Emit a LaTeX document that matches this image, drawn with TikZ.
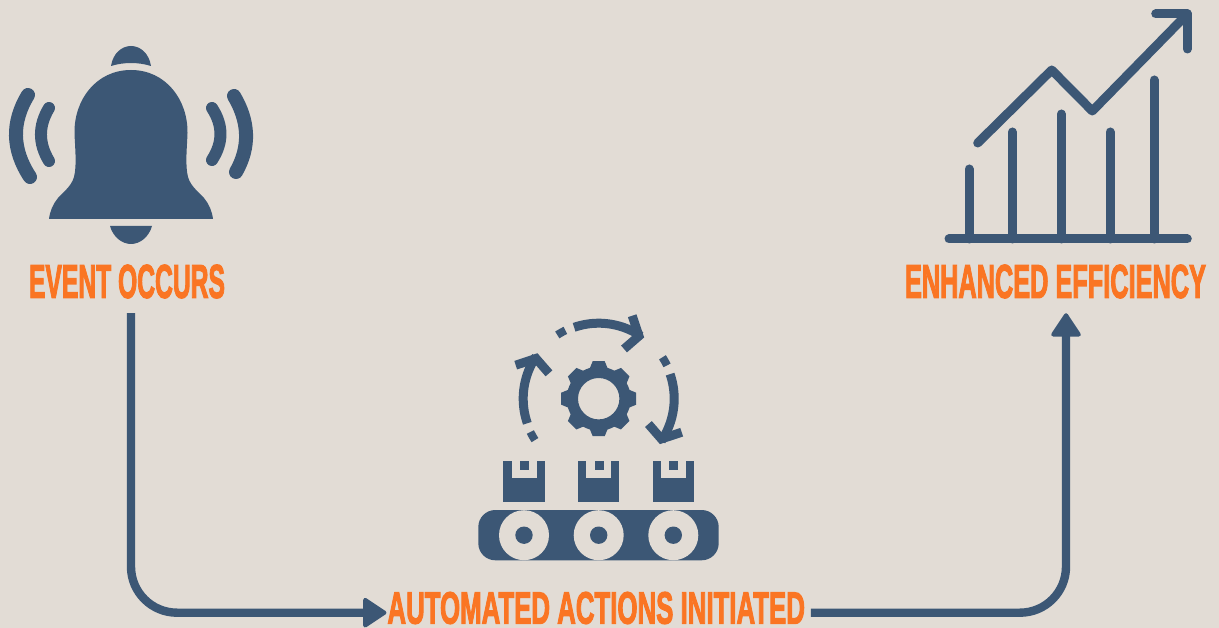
\documentclass[tikz,border=0pt]{standalone}
\usepackage{fontspec}
\usetikzlibrary{arrows.meta,calc}
\newfontfamily\capfont[FakeBold=3]{Liberation Sans Bold}
\definecolor{bgc}{RGB}{226,220,213}
\definecolor{navy}{RGB}{60,87,117}
\definecolor{orng}{RGB}{250,117,35}
\newcommand{\fitcap}[3]{\resizebox{#1pt}{#2pt}{\capfont #3}}
\tikzset{
  cap label/.style={inner sep=0pt,outer sep=0pt,text=orng},
  flow/.style={draw=navy,line width=8.4pt,rounded corners=46pt,
    -{Triangle[length=25pt,width=32pt,round,line width=4pt,fill=navy]}},
  wave/.style={draw=navy,line cap=round,fill=none},
  chartline/.style={draw=navy,line width=9pt,line cap=round,line join=round,fill=none},
  cyc/.style={draw=navy,line width=9pt,fill=none},
}
\begin{document}
\begin{tikzpicture}[x=1pt,y=-1pt]
\useasboundingbox (0,0) rectangle (1219,628);
\fill[bgc] (0,0) rectangle (1219,628);

% bell
\fill[navy] (111,66) .. controls (113,53) and (122,46) .. (131,46) .. controls (140,46) and (149,53) .. (151,66) .. controls (138,62) and (124,62) .. (111,66) -- cycle;
\fill[navy] (131,70) .. controls (96,70) and (74,100) .. (74.5,133) .. controls (75,148) and (77,165) .. (74,177)
  .. controls (71,187) and (63,192) .. (58,198) .. controls (53,204) and (50,211) .. (49,219) -- (213,219)
  .. controls (212,211) and (209,204) .. (204,198) .. controls (199,192) and (191,187) .. (188,177)
  .. controls (185,165) and (187,148) .. (187.5,133) .. controls (188,100) and (166,70) .. (131,70) -- cycle;
\fill[navy] (110,226) -- (152,226) .. controls (149,237) and (140,244) .. (131,244) .. controls (122,244) and (113,237) .. (110,226) -- cycle;
\draw[wave,line width=14pt] (28,95) .. controls (11.3,122.3) and (12,149.7) .. (30,177);
\draw[wave,line width=12pt] (49,108) .. controls (38.3,125.7) and (38.3,143.3) .. (49,161);
\draw[wave,line width=12pt] (212,108) .. controls (223.3,125.3) and (223.3,142.7) .. (212,160);
\draw[wave,line width=14pt] (234,96) .. controls (249,121.3) and (250.4,146.7) .. (236,172);

% chart
\draw[chartline] (977.7,143) -- (1051.7,70) -- (1092.3,111) -- (1187.3,14);
\draw[chartline] (1155.7,14) -- (1187.3,14) -- (1187.3,49);
\foreach \bx/\by in {969/169,1012.3/132,1061.3/114,1110/132,1154/80}
  \draw[chartline] (\bx,\by) -- (\bx,239);
\draw[chartline] (949,239) -- (1187.3,239);

% gear
\foreach \ang in {0,45,...,315}
  \fill[navy,shift={(598.7,398.7)},rotate=\ang] (-9.5,-29) -- (-6,-37.5) -- (6,-37.5) -- (9.5,-29) -- cycle;
\fill[navy,even odd rule] (598.7,398.7) circle[radius=32] (598.7,398.7) circle[radius=20.7];

% cycle arrows
\def\gx{598.7}\def\gy{398.7}
\foreach \R in {0,90,-90}{
  \draw[cyc] plot[domain={-109+\R}:{-56+\R},samples=24] ({\gx+75.5*cos(\x)},{\gy+75.5*sin(\x)});
  \draw[cyc,miter limit=10] ({\gx+89.5*cos(-68+\R)},{\gy+89.5*sin(-68+\R)})
     -- ({\gx+74.5*cos(-57.3+\R)},{\gy+74.5*sin(-57.3+\R)})
     -- ({\gx+55.8*cos(-63+\R)},{\gy+55.8*sin(-63+\R)});
  \draw[cyc,line width=8pt] plot[domain={-123+\R}:{-116+\R},samples=5] ({\gx+76*cos(\x)},{\gy+76*sin(\x)});
}

% boxes
\foreach \bx in {503.3,578,652.7}{
  \fill[navy] (\bx,461) rectangle +(41.4,41.3);
  \fill[bgc] (\bx+8.3,461) rectangle (\bx+33.3,477.7);
  \fill[navy] (\bx+16.7,461) rectangle (\bx+25.7,469.7);
}

% belt
\fill[navy,rounded corners=17pt] (478.3,510) rectangle (718.7,560.3);
\foreach \wx in {524,598.7,673.3}{
  \fill[bgc] (\wx,535.2) circle[radius=25];
  \fill[navy] (\wx,535.2) circle[radius=8.7];
}

% labels
\node[cap label] (ev) at (127,281.5) {\fitcap{196}{33}{EVENT OCCURS}};
\node[cap label] (eff) at (1055.5,281.5) {\fitcap{301}{33}{ENHANCED EFFICIENCY}};
\node[cap label] (auto) at (596.2,608) {\fitcap{417.5}{31.5}{AUTOMATED ACTIONS INITIATED}};

% connectors
\draw[flow] ([shift={(4,15)}]ev.south) |- ([shift={(-1,4.7)}]auto.west);
\draw[flow] ([shift={(6,4.7)}]auto.east) -| ([shift={(10.5,15)}]eff.south);
\end{tikzpicture}
\end{document}
